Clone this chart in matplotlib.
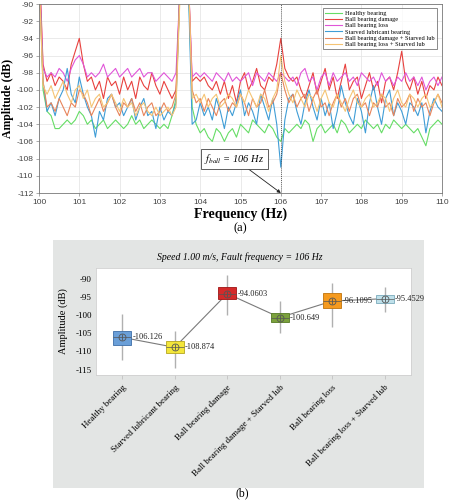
import numpy as np
import matplotlib
matplotlib.use("Agg")
import matplotlib.pyplot as plt
from matplotlib.patches import Rectangle

plt.rcParams["axes.unicode_minus"] = False
plt.rcParams["mathtext.fontset"] = "stix"

# ---- (a) spectrum data, 0.1 Hz bins from 100 to 110 Hz ----
freq = np.round(np.arange(1001, 1101) / 10.0, 1)
freq = np.concatenate([[100.0], freq])

healthy = [
    -85, -100, -102.5, -103, -104.5, -104.5, -104, -103.5, -104, -103.5,
    -102.5, -103, -104, -103.5, -104.5, -104, -103.5, -104.5, -104, -103.5,
    -104, -104.5, -104, -103, -104, -103.5, -104.5, -104, -103.5, -104,
    -104.5, -104, -104.5, -103, -101, -88, -80, -86, -102, -104,
    -105, -104.5, -105.5, -106, -104.5, -105, -106, -105, -104.5, -105.5,
    -104, -104.5, -105, -103.5, -104, -104.5, -105, -104, -104.5, -105.5,
    -106, -104.5, -105, -104.5, -104, -104.5, -103.5, -104, -106, -104.5,
    -104, -105, -104.5, -104, -105, -103.5, -104, -105, -104.5, -104,
    -104.5, -103.5, -104, -104.5, -104, -105, -104, -104.5, -103.5, -104,
    -104.5, -104, -104.5, -105, -104.5, -105.5, -106.5, -104.5, -104, -103.5,
    -104,
]
damage = [
    -84, -97, -99, -98, -99.5, -98.5, -99, -100, -97, -95.5,
    -94, -97, -99, -98.5, -100, -99, -101, -98.5, -99.5, -99,
    -100.5, -98.5, -100, -99, -101, -98.5, -99.5, -100, -98, -99.5,
    -100.5, -99, -100, -101, -100, -88, -81, -86, -99, -98.5,
    -99, -98.5, -99.5, -100, -99, -100.5, -99, -101, -99.5, -101.5,
    -99, -98, -100, -99, -97.5, -99.5, -100, -98.5, -99, -97,
    -94, -97.5, -98.5, -99, -98.5, -100, -101, -99.5, -98, -100.5,
    -99, -97.5, -100, -98.5, -101, -99, -97, -100, -99, -98.5,
    -101, -99.5, -98, -100, -99, -101.5, -99, -98.5, -100, -98,
    -95.5, -99, -100, -98.5, -100.5, -99, -101, -99.5, -100, -98.5,
    -99.5,
]
loss = [
    -85, -97.5, -98.5, -98, -98.5, -97.5, -98, -99, -97.5, -96.5,
    -96, -97, -98.5, -98, -98.5, -98, -97, -98.5, -98, -97.5,
    -98.5, -98, -97.5, -98.5, -98, -97.5, -98.5, -98, -98, -99,
    -98.5, -98, -98.5, -99, -98, -88, -81, -86, -98.5, -98,
    -98.5, -98, -98.5, -99, -98, -98.5, -99, -98, -99, -98.5,
    -99, -98.5, -98, -99.5, -98, -98.5, -99, -98, -98.5, -99,
    -98, -98.5, -99, -98.5, -99.5, -98, -97.5, -99, -98.5, -100,
    -98.5, -98, -99.5, -98, -99, -98.5, -98, -99, -98.5, -99.5,
    -98, -98.5, -99, -98.5, -99.5, -98, -99, -98.5, -99.5, -98.5,
    -99, -98, -99, -98.5, -99.5, -98.5, -100, -99, -98.5, -99.5,
    -98.5,
]
starved = [
    -86, -99, -102.5, -101.5, -103, -101, -100, -97.5, -100.5, -101.5,
    -98.5, -100.5, -102, -103, -105.5, -102.5, -103.5, -101, -100.5, -102,
    -101.5, -103, -102, -101, -103.5, -102, -101, -103, -102.5, -104.5,
    -102, -103.5, -102.5, -103, -101.5, -88, -80, -87, -104, -103.5,
    -101.5, -103, -102, -103.5, -101, -102.5, -104.5, -102, -103, -101.5,
    -100, -103, -101.5, -102.5, -104, -100.5, -102, -103.5, -101, -104,
    -109, -103.5, -101, -100.5, -102.5, -104, -101.5, -100, -102, -103.5,
    -101, -103, -101.5, -104.5, -102.5, -99.5, -101.5, -103, -104, -101,
    -102.5, -105, -101.5, -99.5, -102, -104, -101, -100, -103, -101.5,
    -102.5, -104, -101.5, -102, -103, -101.5, -105, -102.5, -101, -102,
    -102.5,
]
damage_starved = [
    -86, -99, -102, -101.5, -102.5, -101, -102, -103, -101.5, -102,
    -100, -100.5, -101.5, -103, -102, -101, -102.5, -101.5, -100.5, -102,
    -103, -101.5, -102, -101, -102.5, -101.5, -103, -102, -101.5, -103,
    -102.5, -101.5, -102.5, -102, -100.5, -88, -81, -86, -100, -101.5,
    -101, -102.5, -101, -102, -103, -101.5, -101, -102.5, -101.5, -102,
    -100.5, -101.5, -103, -101, -102, -101.5, -100, -102, -101.5, -100.5,
    -98, -100, -101.5, -100.5, -102, -101, -100.5, -102.5, -101, -100,
    -102, -101.5, -103, -101.5, -100.5, -102, -101, -102.5, -101, -100.5,
    -102, -101.5, -103, -101.5, -102, -100.5, -102, -101.5, -103, -101,
    -102, -101.5, -100.5, -102.5, -101, -102, -101.5, -103, -101.5, -100.5,
    -101.5,
]
loss_starved = [
    -87, -99.5, -100.5, -99.5, -101, -100, -99, -100.5, -101.5, -100,
    -99.5, -101, -100, -102, -101, -100.5, -102, -101.5, -100.5, -101.5,
    -102.5, -101, -102, -101.5, -103, -102, -101.5, -102.5, -103, -102,
    -103, -102.5, -102, -103, -102, -89, -80, -85, -101, -100.5,
    -101.5, -100.5, -102, -101, -100.5, -102, -101.5, -100.5, -101, -102,
    -100.5, -101.5, -100, -101, -102, -100.5, -101, -102.5, -101, -100,
    -96, -99, -100.5, -101.5, -100, -101, -102, -100.5, -101, -102.5,
    -101, -100, -101.5, -102, -100.5, -101.5, -102.5, -101, -100, -101.5,
    -102, -101, -100.5, -102, -101.5, -100.5, -101, -102.5, -101, -100,
    -101.5, -102, -100.5, -101, -102, -101, -100.5, -102, -101.5, -100.5,
    -102,
]

series_names = [
    "Healthy bearing",
    "Ball bearing damage",
    "Ball bearing loss",
    "Starved lubricant bearing",
    "Ball bearing damage + Starved lub",
    "Ball bearing loss + Starved lub",
]
series_values = [healthy, damage, loss, starved, damage_starved, loss_starved]
series_colors = ["#66dd66", "#e8413e", "#e055d8", "#3f9dd6", "#e8845a", "#f5c474"]

# ---- (b) summary box data ----
categories = [
    "Healthy bearing",
    "Starved lubricant bearing",
    "Ball bearing damage",
    "Ball bearing damage + Starved lub",
    "Ball bearing loss",
    "Ball bearing loss + Starved lub",
]
means = [-106.126, -108.874, -94.0603, -100.649, -96.1095, -95.4529]
q_low = [-108.1, -110.3, -95.5, -101.8, -98.0, -96.6]
q_high = [-104.3, -107.0, -92.2, -99.3, -93.8, -94.4]
whisk_low = [-112.3, -114.7, -99.9, -104.8, -103.2, -99.1]
whisk_high = [-99.6, -104.3, -89.0, -96.0, -91.1, -92.2]
mean_labels = ["-106.126", "-108.874", "-94.0603", "-100.649", "-96.1095", "-95.4529"]
box_colors = ["#6a9fd8", "#f3e63a", "#d42a2a", "#7ba13c", "#f59a1e", "#bfe0ea"]
box_edges = ["#3d6ea8", "#b5a520", "#a01414", "#557a22", "#c0730a", "#7aaabb"]

serif = "Liberation Serif"
sans = "Liberation Sans"

fig = plt.figure(figsize=(4.52, 5.0), dpi=100)

# ---------------- panel (a) ----------------
ax1 = fig.add_axes([39 / 452, 1 - 193 / 500, (442 - 39) / 452, (193 - 4) / 500])
for name, vals, col in zip(series_names, series_values, series_colors):
    ax1.plot(freq, vals, color=col, lw=0.8, label=name)
ax1.axvline(106, color="#333333", lw=0.6, ls=(0, (1, 1.5)))
ax1.set_xlim(100, 110)
ax1.set_ylim(-112, -90)
ax1.set_xticks(range(100, 111))
ax1.set_yticks(range(-112, -89, 2))
ax1.grid(True, color="#e6e6e6", lw=0.6)
ax1.tick_params(labelsize=6, labelcolor="#444444", length=2, width=0.5, color="#888888", pad=2)
for lab in ax1.get_xticklabels() + ax1.get_yticklabels():
    lab.set_family(sans)
for s in ax1.spines.values():
    s.set_color("#777777")
    s.set_linewidth(0.6)
ax1.set_xlabel("Frequency (Hz)", family=serif, fontsize=10, fontweight="bold")
ax1.set_ylabel("Amplitude (dB)", family=serif, fontsize=8.5, fontweight="bold")
ax1.xaxis.set_label_coords(0.5, -0.075)
ax1.yaxis.set_label_coords(-0.062, 0.5)
leg = ax1.legend(loc="upper right", prop={"family": serif, "size": 4.6}, frameon=True,
                 fancybox=False, edgecolor="#555555", handlelength=2.6, labelspacing=0.12,
                 borderpad=0.35, handletextpad=0.5, bbox_to_anchor=(0.995, 0.995))
leg.get_frame().set_linewidth(0.6)
ax1.annotate(r"$f_{ball}$ = 106 Hz", xy=(106, -112), xytext=(104.85, -108.0),
             fontsize=7.5, family=serif, style="italic", ha="center", va="center",
             bbox=dict(boxstyle="square,pad=0.3", fc="white", ec="#444444", lw=0.6),
             arrowprops=dict(arrowstyle="-|>", color="#222222", lw=0.6,
                             mutation_scale=5, shrinkA=0, shrinkB=0))
fig.text(240 / 452, 1 - 228 / 500, "(a)", family=serif, fontsize=9, ha="center", va="center")

# ---------------- panel (b) ----------------
fig.patches.append(Rectangle((53 / 452, 1 - 488 / 500), (424 - 53) / 452, (488 - 240) / 500,
                             transform=fig.transFigure, facecolor="#e3e5e4",
                             edgecolor="none", zorder=-5))
ax2 = fig.add_axes([96 / 452, 1 - 375 / 500, (411 - 96) / 452, (375 - 268) / 500])
ax2.set_zorder(2)
pos = np.arange(len(categories))
ax2.vlines(pos, whisk_low, whisk_high, color="#b0b0b0", lw=1.0, zorder=1)
ax2.plot(pos, means, color="#7a7a7a", lw=0.8, zorder=2)
ax2.bar(pos, np.array(q_high) - np.array(q_low), bottom=q_low, width=0.34,
        color=box_colors, edgecolor=box_edges, linewidth=0.6, zorder=3)
ax2.hlines(means, pos - 0.17, pos + 0.17, color="#555555", lw=0.5, zorder=4)
ax2.plot(pos, means, ls="none", marker="o", ms=5, mfc="none", mec="#555555", mew=0.6, zorder=5)
ax2.plot(pos, means, ls="none", marker="|", ms=5, mec="#555555", mew=0.6, zorder=5)
for x, m, lab in zip(pos, means, mean_labels):
    ax2.text(x + 0.19, m, lab, family=serif, fontsize=6, va="center", ha="left", color="#222222")
ax2.set_xlim(-0.5, 5.5)
ax2.set_ylim(-116.5, -87)
ax2.set_yticks([-115, -110, -105, -100, -95, -90])
ax2.set_xticks(pos)
ax2.set_xticklabels(categories, rotation=45, ha="right", rotation_mode="anchor",
                    family=serif, fontsize=6.5)
for lab in ax2.get_yticklabels():
    lab.set_family(serif)
ax2.tick_params(axis="y", labelsize=6.5, length=0, pad=3)
ax2.tick_params(axis="x", length=3, width=0.5, color="#bbbbbb", pad=3, direction="out")
for s in ax2.spines.values():
    s.set_color("#d0d0d0")
    s.set_linewidth(0.6)
ax2.set_ylabel("Amplitude (dB)", family=serif, fontsize=7.5)
ax2.yaxis.set_label_coords(-0.09, 0.5)
fig.text(240 / 452, 1 - 257 / 500, "Speed 1.00 m/s, Fault frequency = 106 Hz",
         family=serif, style="italic", fontsize=7, ha="center", va="center")
fig.text(242 / 452, 1 - 493 / 500, "(b)", family=serif, fontsize=8.5, ha="center", va="center")

fig.savefig("out.png", dpi=100)
